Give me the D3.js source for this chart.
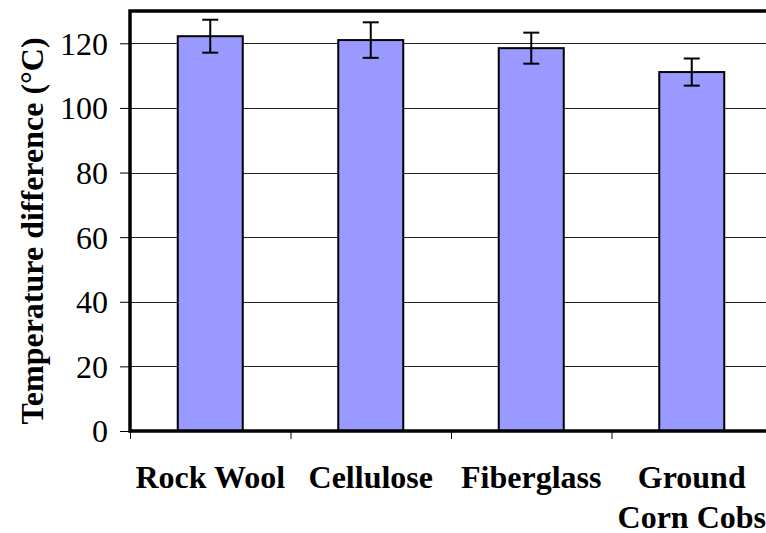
<!DOCTYPE html>
<html>
<head>
<meta charset="utf-8">
<script src="https://cdn.jsdelivr.net/npm/d3@7"></script>
<style>
  body { margin: 0; background: #fff; }
  svg { display: block; }
</style>
</head>
<body>
<div id="chart"></div>
<script>
const categories = [["Rock Wool"], ["Cellulose"], ["Fiberglass"], ["Ground", "Corn Cobs"]];
const values = [122.2, 121.0, 118.5, 111.1];
const errors = [5.1, 5.5, 4.8, 4.2];
const yTicks = [0, 20, 40, 60, 80, 100, 120];

const W = 766, H = 533;
const serif = '"Liberation Serif", "Times New Roman", Times, serif';
const margin = { left: 130, top: 11, bottom: 102 };
const plotRight = margin.left + 4 * 160.5;
const y0 = H - margin.bottom;

const svg = d3.select('#chart').append('svg')
  .attr('width', W)
  .attr('height', H);

const x = d3.scaleBand()
  .domain(d3.range(categories.length))
  .range([margin.left, plotRight])
  .padding(0);

const y = d3.scaleLinear()
  .domain([0, 130])
  .range([y0, margin.top]);

// grid lines
svg.append('g')
  .selectAll('line')
  .data(yTicks.filter(d => d > 0))
  .enter()
  .append('line')
  .attr('x1', margin.left)
  .attr('x2', plotRight)
  .attr('y1', d => Math.round(y(d)) + 0.5)
  .attr('y2', d => Math.round(y(d)) + 0.5)
  .attr('stroke', '#222')
  .attr('stroke-width', 1);

// Y axis ticks + labels
const yAxis = svg.append('g')
  .attr('transform', `translate(${margin.left},0)`)
  .call(d3.axisLeft(y).tickValues(yTicks).tickSize(10).tickPadding(12));
yAxis.select('.domain').remove();
yAxis.attr('font-size', 32).attr('font-family', serif);
yAxis.selectAll('.tick line').attr('stroke', '#000').attr('stroke-width', 1);
yAxis.selectAll('.tick text').attr('fill', '#000').attr('dy', '0.34em');

// X axis ticks at category boundaries
const bounds = d3.range(categories.length + 1).map(i => margin.left + i * x.step());
svg.append('g')
  .selectAll('line')
  .data(bounds)
  .enter()
  .append('line')
  .attr('x1', d => d + 0.5)
  .attr('x2', d => d + 0.5)
  .attr('y1', y0)
  .attr('y2', y0 + 8)
  .attr('stroke', '#000')
  .attr('stroke-width', 1);

// bars
const barW = x.bandwidth() * 0.405;
svg.append('g')
  .selectAll('rect')
  .data(values)
  .enter()
  .append('rect')
  .attr('x', (d, i) => x(i) + (x.bandwidth() - barW) / 2)
  .attr('y', d => y(d))
  .attr('width', barW)
  .attr('height', d => y0 - y(d))
  .attr('fill', '#9999ff')
  .attr('stroke', '#000')
  .attr('stroke-width', 2);

// error bars
const err = svg.append('g').attr('stroke', '#000').attr('stroke-width', 2);
values.forEach((v, i) => {
  const cx = x(i) + x.bandwidth() / 2;
  err.append('line').attr('x1', cx).attr('x2', cx).attr('y1', y(v + errors[i])).attr('y2', y(v - errors[i]));
  err.append('line').attr('x1', cx - 8).attr('x2', cx + 8).attr('y1', y(v + errors[i])).attr('y2', y(v + errors[i]));
  err.append('line').attr('x1', cx - 8).attr('x2', cx + 8).attr('y1', y(v - errors[i])).attr('y2', y(v - errors[i]));
});

// frame
svg.append('rect')
  .attr('x', margin.left)
  .attr('y', margin.top)
  .attr('width', plotRight - margin.left)
  .attr('height', y0 - margin.top)
  .attr('fill', 'none')
  .attr('stroke', '#000')
  .attr('stroke-width', 3.5);

// category labels
categories.forEach((lines, i) => {
  const cx = x(i) + x.bandwidth() / 2;
  const t = svg.append('text')
    .attr('font-family', serif)
    .attr('font-size', 32)
    .attr('font-weight', 'bold')
    .attr('text-anchor', 'middle')
    .attr('x', cx)
    .attr('y', 488);
  lines.forEach((s, j) => {
    t.append('tspan').attr('x', cx).attr('dy', j === 0 ? 0 : 40).text(s);
  });
});

// y title
svg.append('text')
  .attr('font-family', serif)
  .attr('font-size', 32)
  .attr('font-weight', 'bold')
  .attr('text-anchor', 'middle')
  .attr('transform', `translate(43,231) rotate(-90)`)
  .text('Temperature difference (°C)');
</script>
</body>
</html>
